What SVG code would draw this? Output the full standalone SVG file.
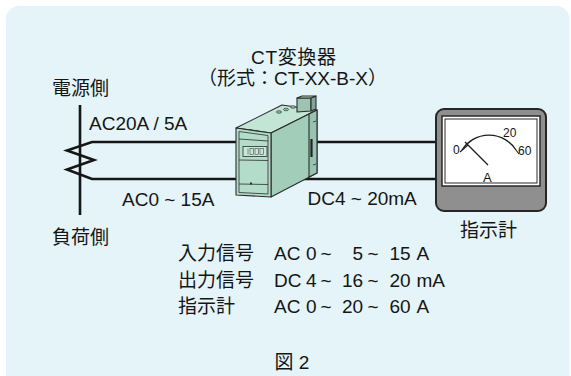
<svg xmlns="http://www.w3.org/2000/svg" width="571" height="376" viewBox="0 0 571 376">
  <style>
    text { font-family: "Liberation Sans", "Noto Sans CJK JP", sans-serif; fill: #151515; }
    .lbl { font-size: 19px; }
    .small { font-size: 12px; }
    .wire { fill: none; stroke: #161616; stroke-width: 2.6; stroke-linejoin: miter; }
    .edge { stroke: #2c2c2c; stroke-width: 1.1; stroke-linejoin: round; }
    .thin { fill: none; stroke: #2c2c2c; stroke-width: 0.8; }
  </style>

  <!-- panel background -->
  <rect x="0" y="0" width="571" height="376" fill="#ffffff"/>
  <rect x="6" y="6" width="563.5" height="400" rx="13" fill="#e4f4f8"/>

  <!-- wiring -->
  <g id="connectors">
    <path class="wire" d="M250,142 H92 L67,150.5 L94,160 L67,169.5 L92,179 H250"/>
    <path class="wire" d="M260,142 H437"/>
    <path class="wire" d="M260,179 H437"/>
  </g>

  <!-- current transformer primary conductor -->
  <g id="ct-line">
    <line x1="80" y1="105" x2="80" y2="215" stroke="#161616" stroke-width="2.6"/>
  </g>

  <!-- CT converter unit -->
  <g id="converter">
    <!-- top face -->
    <polygon class="edge" points="236,128 271,133 317,110 282,105" fill="#c3e5d5"/>
    <!-- side face -->
    <polygon class="edge" points="271,133 317,110 317,173 271,197" fill="#a2cdb9"/>
    <!-- rail clip strip on the side -->
    <polygon class="edge" points="309,114 317,110 317,173 309,177" fill="#97c3b0"/>
    <line x1="311.5" y1="139" x2="311.5" y2="157" stroke="#222" stroke-width="2.2"/>
    <line x1="313" y1="122" x2="316" y2="121" stroke="#2c2c2c" stroke-width="0.8"/>
    <line x1="313" y1="165" x2="316" y2="164" stroke="#2c2c2c" stroke-width="0.8"/>
    <!-- terminal screws on top -->
    <ellipse cx="279" cy="112" rx="2.6" ry="1.3" fill="#8fb9a6" stroke="#2c2c2c" stroke-width="0.6"/>
    <ellipse cx="286" cy="109.5" rx="2.6" ry="1.3" fill="#8fb9a6" stroke="#2c2c2c" stroke-width="0.6"/>
    <ellipse cx="293" cy="107" rx="2.6" ry="1.3" fill="#8fb9a6" stroke="#2c2c2c" stroke-width="0.6"/>
    <ellipse cx="250" cy="130.5" rx="2.2" ry="1" fill="#8fb9a6" stroke="#2c2c2c" stroke-width="0.5"/>
    <ellipse cx="256" cy="131.3" rx="2.2" ry="1" fill="#8fb9a6" stroke="#2c2c2c" stroke-width="0.5"/>
    <!-- small connector block on top -->
    <polygon class="edge" points="297,98 311,98 311,111 297,112" fill="#9cc4b3"/>
    <polygon class="edge" points="311,98 316,96 316,109 311,111" fill="#7fa896"/>
    <polygon class="edge" points="297,98 302,96 316,96 311,98" fill="#b3d8c8"/>
    <!-- front face -->
    <polygon class="edge" points="236,128 271,133 271,197 236,195" fill="#b4dccb"/>
    <polygon class="thin" points="239,131.5 268,135.5 268,194 239,192.5"/>
    <line class="thin" x1="239" y1="139" x2="268" y2="141"/>
    <!-- display window -->
    <rect x="243" y="146.5" width="24" height="10" fill="#c7e8d9" stroke="#2c2c2c" stroke-width="0.8"/>
    <g fill="none" stroke="#4a4a4a" stroke-width="0.6">
      <line x1="248" y1="148.5" x2="248" y2="154.5"/>
      <rect x="250" y="148.5" width="3.4" height="6"/>
      <rect x="255" y="148.5" width="3.4" height="6"/>
      <rect x="260" y="148.5" width="3.4" height="6"/>
    </g>
    <line class="thin" x1="239" y1="160" x2="268" y2="160.5"/>
    <line class="thin" x1="239" y1="184" x2="268" y2="184.5"/>
    <rect x="250" y="182.5" width="2" height="2" fill="#2c2c2c"/>
  </g>

  <!-- ammeter -->
  <g id="meter">
    <rect x="436" y="109" width="110" height="102" rx="8" fill="#8f8f8f" stroke="#262626" stroke-width="2"/>
    <rect x="442" y="116" width="98" height="70" fill="#ffffff" stroke="#2a2a2a" stroke-width="1.5"/>
    <rect x="445" y="119" width="92" height="64" fill="none" stroke="#2a2a2a" stroke-width="1"/>
    <path d="M462,150 A32,32 0 0 1 516,150" fill="none" stroke="#1e1e1e" stroke-width="1.3"/>
    <line x1="465" y1="142" x2="488" y2="165" stroke="#1e1e1e" stroke-width="1.3"/>
    <line x1="460" y1="152" x2="468" y2="145" stroke="#1e1e1e" stroke-width="1.1"/>
    <line x1="516" y1="150" x2="519" y2="154" stroke="#1e1e1e" stroke-width="1.1"/>
    <text class="small" x="453" y="153.5">0</text>
    <text class="small" x="503" y="137">20</text>
    <text class="small" x="518" y="154.5">60</text>
    <text x="483" y="182" font-size="13">A</text>
  </g>

  <!-- labels -->
  <g id="labels">
    <text class="lbl" x="251" y="64" textLength="85" lengthAdjust="spacing">CT変換器</text>
    <text class="lbl" x="198" y="85" textLength="189" lengthAdjust="spacing">（形式：CT-XX-B-X）</text>
    <text class="lbl" x="52" y="94.5">電源側</text>
    <text class="lbl" x="52" y="243.5">負荷側</text>
    <text class="lbl" x="89" y="129.5">AC20A / 5A</text>
    <text class="lbl" x="122" y="206">AC0 ~ 15A</text>
    <text class="lbl" x="307.5" y="205">DC4 ~ 20mA</text>
    <text class="lbl" x="460" y="237">指示計</text>
  </g>

  <!-- signal ranges -->
  <g id="ranges">
    <text class="lbl" y="260"><tspan x="178">入力信号</tspan><tspan x="274">AC</tspan><tspan x="306">0</tspan><tspan x="320.5">~</tspan><tspan x="352.5">5</tspan><tspan x="367.5">~</tspan><tspan x="389.5">15</tspan><tspan x="416.5">A</tspan></text>
    <text class="lbl" y="286.5"><tspan x="178">出力信号</tspan><tspan x="274">DC</tspan><tspan x="306">4</tspan><tspan x="320.5">~</tspan><tspan x="342">16</tspan><tspan x="367.5">~</tspan><tspan x="389.5">20</tspan><tspan x="416.5">mA</tspan></text>
    <text class="lbl" y="313"><tspan x="178">指示計</tspan><tspan x="274">AC</tspan><tspan x="306">0</tspan><tspan x="320.5">~</tspan><tspan x="342">20</tspan><tspan x="367.5">~</tspan><tspan x="389.5">60</tspan><tspan x="416.5">A</tspan></text>
  </g>

  <!-- caption -->
  <text class="lbl" x="292" y="369" text-anchor="middle">図 2</text>
</svg>
